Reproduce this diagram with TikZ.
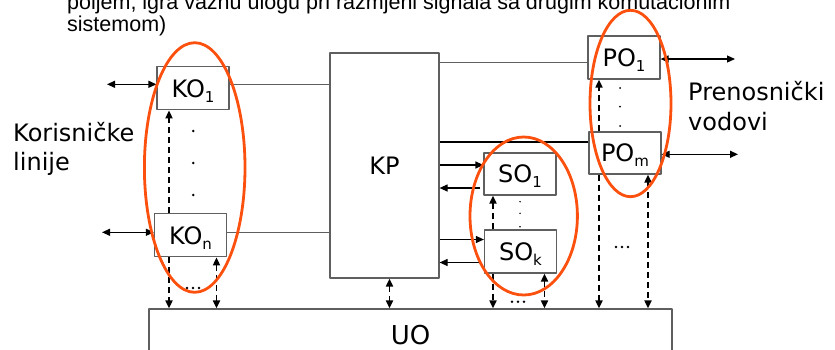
\documentclass[tikz,border=0pt]{standalone}
\usepackage{fontspec}
\setmainfont{DejaVu Sans}
\newfontfamily\slidefont{Liberation Sans}
\usetikzlibrary{arrows.meta,positioning}
\definecolor{boxgray}{RGB}{95,95,95}
\definecolor{ringorange}{RGB}{252,80,15}
\newcommand{\lowsub}[1]{\raisebox{-5pt}{\fontsize{15}{15}\selectfont #1}}

\begin{document}
\begin{tikzpicture}[line join=round, >={Triangle[length=8pt,width=7pt]}, x=1pt, y=-1pt]
	\tikzset{every node/.style={font=\fontsize{24}{24}\selectfont}}
	\tikzset{blok/.style={draw=boxgray, line width=1.2pt, fill=white, minimum width=72pt, minimum height=43pt, inner sep=0pt, text depth=0pt}}
	\tikzset{veza/.style={draw=boxgray, line width=1.2pt}}
	\tikzset{strel/.style={line width=1.2pt}}
	\tikzset{isprek/.style={line width=1.8pt, dash pattern=on 6pt off 4pt}}
	\tikzset{obruc/.style={draw=ringorange, line width=2.8pt}}
	\useasboundingbox (0,0) rectangle (835,349);
	\node[anchor=base west, inner sep=0pt, font=\slidefont\fontsize{21.5}{21.5}\selectfont] (nap1) at (67,9.5) {poljem, igra važnu ulogu pri razmjeni signala sa drugim komutacionim};
	\node[anchor=base west, inner sep=0pt, font=\slidefont\fontsize{21.5}{21.5}\selectfont] (nap2) at (67,31.7) {sistemom)};
	\node[blok] (KO1) at (193,88.3) {KO\lowsub{1}};
	\node[blok] (KOn) at (190.5,235.3) {KO\lowsub{n}};
	\node[blok, minimum width=109pt, minimum height=225pt] (KP) at (384.5,165.5) {KP};
	\node[blok, minimum height=42pt] (SO1) at (520,174) {SO\lowsub{1}};
	\node[blok] (SOk) at (520.5,251.5) {SO\lowsub{k}};
	\node[blok] (PO1) at (624,57.5) {PO\lowsub{1}};
	\node[blok, minimum height=42pt] (POm) at (625,153) {PO\lowsub{m}};
	\node[blok, minimum width=523pt, minimum height=52pt, font=\fontsize{26}{26}\selectfont] (UO) at (410.5,335) {UO};
	\node[anchor=base west, inner sep=0pt] (kor1) at (13,141.7) {Korisničke};
	\node[anchor=base west, inner sep=0pt] (kor2) at (13,170) {linije};
	\node[anchor=base west, inner sep=0pt] (pren1) at (688,100) {Prenosnički};
	\node[anchor=base west, inner sep=0pt] (pren2) at (688,130) {vodovi};
	\coordinate (kl1) at (107,84.3);
	\coordinate (kln) at (102,232.3);
	\draw[strel,<->] (kl1) -- (kl1 -| KO1.west);
	\draw[strel,<->] (kln) -- (kln -| KOn.west);
	\draw[veza] (kl1 -| KO1.east) -- (kl1 -| KP.west);
	\draw[veza] (kln -| KOn.east) -- (kln -| KP.west);
	\coordinate (pr1) at (735,59);
	\coordinate (prm) at (738,154.3);
	\draw[strel,<->] (pr1 -| PO1.east) -- (pr1);
	\draw[strel,<->] (prm -| POm.east) -- (prm);
	\coordinate (p1l) at ([yshift=-5pt]PO1.west);
	\coordinate (pml) at ([yshift=11pt]POm.west);
	\draw[veza] (p1l) -- (p1l -| KP.east);
	\draw[strel] (pml) -- (pml -| KP.east);
	\coordinate (s1a) at ([yshift=9pt]SO1.west);
	\coordinate (s1b) at ([yshift=-14pt,xshift=-3pt]SO1.west);
	\coordinate (ska) at ([yshift=12pt]SOk.west);
	\coordinate (skb) at ([yshift=-11pt,xshift=-3pt]SOk.west);
	\draw[strel,->] (s1a -| KP.east) -- (s1a);
	\draw[strel,->] (s1b) -- (s1b -| KP.east);
	\draw[strel,->] (ska -| KP.east) -- (ska);
	\draw[strel,->] (skb) -- (skb -| KP.east);
	\coordinate (dk1) at ([xshift=-24pt]KO1.south);
	\coordinate (dk2) at ([xshift=26pt]KOn.south);
	\coordinate (dkp) at ([xshift=5pt]KP.south);
	\coordinate (ds1) at ([xshift=-27pt]SO1.south);
	\coordinate (ds2) at ([xshift=24pt]SOk.south);
	\coordinate (dp1) at ([xshift=-25pt]PO1.south);
	\coordinate (dp2) at ([xshift=23pt]POm.south);
	\draw[isprek,->] (dk1 |- KOn.north) -- (dk1);
	\draw[isprek,->] (dk1 |- KOn.south) -- (dk1 |- UO.north);
	\draw[isprek,<->] (dk2) -- (dk2 |- UO.north);
	\draw[isprek,<->] (dkp) -- (dkp |- UO.north);
	\draw[isprek,->] (ds1 |- SOk.north) -- (ds1);
	\draw[isprek,->] (ds1 |- SOk.south) -- (ds1 |- UO.north);
	\draw[isprek,<->] (ds2) -- (ds2 |- UO.north);
	\draw[isprek,->] (dp1 |- POm.north) -- (dp1);
	\draw[isprek,->] (dp1 |- POm.south) -- (dp1 |- UO.north);
	\draw[isprek,<->] (dp2) -- (dp2 |- UO.north);
	\foreach \y in {131,163,195}
		\fill (193.3,\y) circle (1.4);
	\foreach \y in {201.7,213.3,226.7}
		\fill (520,\y) circle (0.8);
	\foreach \y in {88,106.7,126}
		\fill (620,\y) circle (1);
	\foreach \x in {-6,0,6} {
		\fill (193+\x,288) circle (1.4);
		\fill (518+\x,301.7) circle (1.4);
		\fill (622+\x,247) circle (1.4);
	}
	\draw[obruc] (194.7,167.5) ellipse [x radius=50.3, y radius=124.8];
	\draw[obruc] (523.7,216) ellipse [x radius=53.7, y radius=79];
	\draw[obruc] (630.5,103.5) ellipse [x radius=40.5, y radius=93.2];
\end{tikzpicture}
\end{document}
